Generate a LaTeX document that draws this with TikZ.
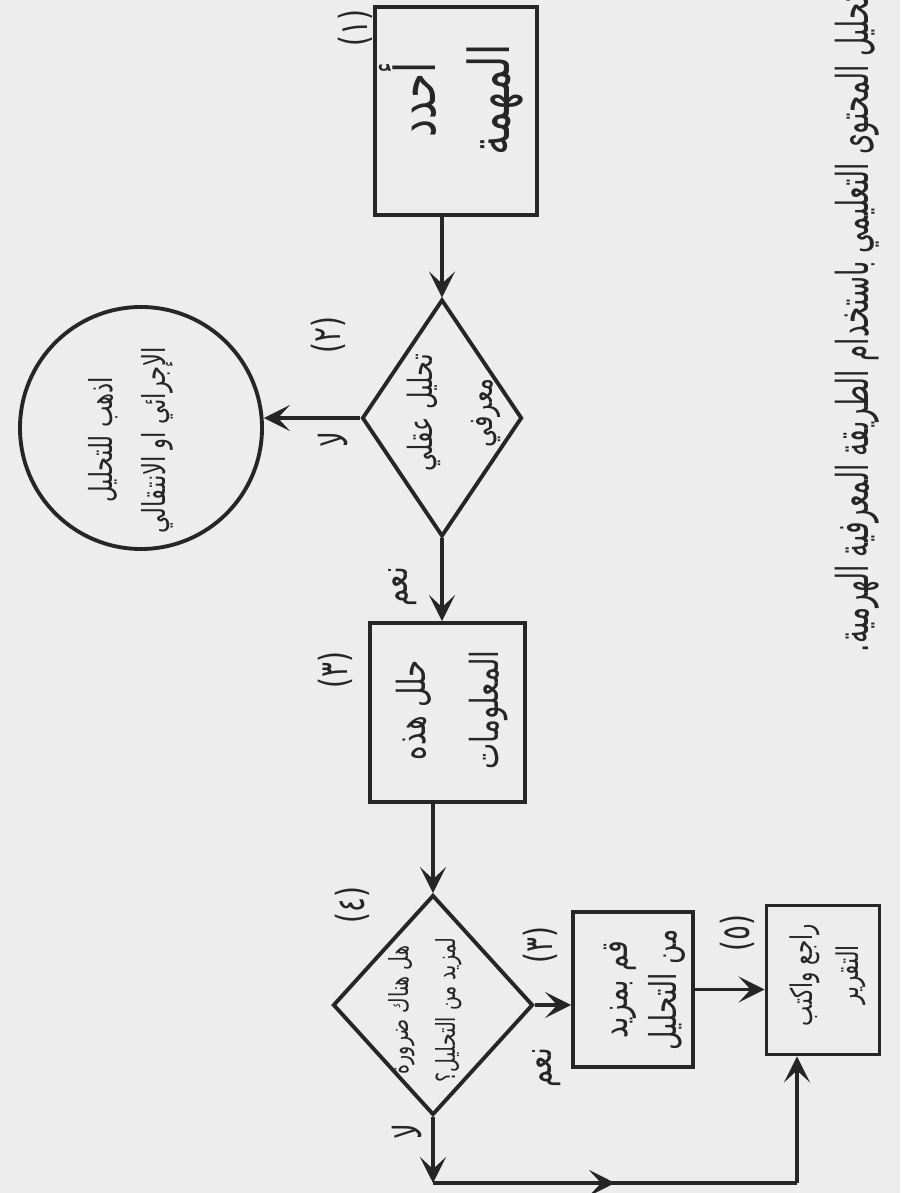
\documentclass[tikz,border=0pt]{standalone}
\usepackage{fontspec}
\TeXXeTstate=1
\newfontfamily\arabicfont[Script=Arabic,FakeStretch=0.72]{DejaVu Sans}
\newfontfamily\titlefont[Script=Arabic,FakeStretch=0.6]{DejaVu Sans}
\usetikzlibrary{shapes.geometric,arrows.meta,positioning,calc,decorations.markings}
\definecolor{ink}{gray}{0.15}
\definecolor{paper}{gray}{0.93}

\begin{document}
\begin{tikzpicture}[
  box/.style={draw=ink,line width=1.1pt,inner sep=0pt},
  dia/.style={box,diamond},
  circ/.style={box,circle},
  txt/.style={align=center,inner sep=0pt,text=ink},
  num/.style={font=\arabicfont\fontsize{11}{13}\selectfont,inner sep=0pt,text=ink},
  lbl/.style={font=\arabicfont\fontsize{11}{13}\selectfont,inner sep=0pt,text=ink},
  arr/.style={-{Stealth[length=2.6mm,width=2.6mm,inset=1.2mm]},line width=1pt,draw=ink},
  midarr/.style={line width=1pt,draw=ink,postaction={decorate},
    decoration={markings,mark=at position 0.5 with {\arrow{Stealth[length=2.6mm,width=2.6mm,inset=1.2mm]}}}}
]
% page drawn as the scan shows it: turned a quarter turn
\begin{scope}[rotate=90,transform shape]
\fill[paper] (0,0) rectangle (-11.93,-9);
\useasboundingbox (0,0) rectangle (-11.93,-9);

% title
\node[font=\titlefont\fontsize{12.5}{14}\selectfont,anchor=east,inner sep=0pt,text=ink] (title) at (0.05,-8.57)
  {\beginR تحليل المحتوى التعليمي باستخدام الطريقة المعرفية الهرمية.\endR};

% shapes
\node[box,minimum width=2.08cm,minimum height=1.62cm] (task) at (-1.11,-4.56) {};
\node[dia,minimum width=2.37cm,minimum height=1.60cm] (cogn) at (-4.18,-4.42) {};
\node[circ,minimum size=2.42cm] (proc) at (-4.28,-1.41) {};
\node[box,minimum width=1.79cm,minimum height=1.55cm] (analyze) at (-7.125,-4.475) {};
\node[dia,minimum width=2.20cm,minimum height=2.00cm] (need) at (-10.05,-4.33) {};
\node[box,minimum width=1.55cm,minimum height=1.20cm] (more) at (-9.895,-6.33) {};
\node[box,minimum width=1.49cm,minimum height=1.13cm] (report) at (-9.8,-8.23) {};

% texts
\node[txt,font=\arabicfont\fontsize{16}{21}\selectfont] (task-t) at (-1.0,-4.51)
  {\beginR أحدد\endR\\\beginR المهمة\endR};
\node[txt,font=\arabicfont\fontsize{9.5}{17}\selectfont] (cogn-t) at (-4.13,-4.54)
  {\beginR تحليل عقلي\endR\\\beginR معرفي\endR};
\node[txt,font=\arabicfont\fontsize{9}{15}\selectfont] (proc-t) at (-4.40,-1.31)
  {\beginR اذهب للتحليل\endR\\\beginR الإجرائي او الانتقالي\endR};
\node[txt,font=\arabicfont\fontsize{11}{21}\selectfont] (analyze-t) at (-7.1,-4.52)
  {\beginR حلل هذه\endR\\\beginR المعلومات\endR};
\node[txt,font=\arabicfont\fontsize{7.5}{13.5}\selectfont] (need-t) at (-10.1,-4.25)
  {\beginR هل هناك ضرورة\endR\\\beginR لمزيد من التحليل؟\endR};
\node[txt,font=\arabicfont\fontsize{10.5}{14}\selectfont] (more-t) at (-9.9,-6.45)
  {\beginR قم بمزيد\endR\\\beginR من التحليل\endR};
\node[txt,font=\arabicfont\fontsize{8.5}{13}\selectfont] (report-t) at (-9.75,-8.28)
  {\beginR راجع واكتب\endR\\\beginR التقرير\endR};

% step numbers
\node[num] (n1) at (-0.28,-3.55) {(١)};
\node[num] (n2) at (-3.35,-3.28) {(٢)};
\node[num] (n3) at (-6.70,-3.35) {(٣)};
\node[num] (n4) at (-9.05,-3.52) {(٤)};
\node[num] (n3b) at (-9.45,-5.40) {(٣)};
\node[num] (n5) at (-9.33,-7.37) {(٥)};

% connectors
\coordinate (c1) at (-11.83,-4.33);
\coordinate (c2) at (-11.83,-7.97);
\draw[arr] (task.west |- cogn.east) -- (cogn.east);
\draw[arr] (cogn.north) -- (cogn.north |- proc.south);
\draw[arr] (cogn.west) -- (cogn.west -| analyze.east);
\draw[arr] (analyze.west |- need.east) -- (need.east);
\draw[arr] (need.south) -- (need.south |- more.north);
\draw[arr] (more.south) -- (more.south |- report.north);
\draw[arr] (need.west) -- (c1);
\draw[midarr] (c1) -- (c2);
\draw[arr] (c2) -- (c2 -| report.west);

% yes / no
\node[lbl] (no1) at (-4.40,-3.33) {\beginR لا\endR};
\node[lbl] (yes1) at (-5.87,-4.03) {\beginR نعم\endR};
\node[lbl] (yes2) at (-10.68,-5.47) {\beginR نعم\endR};
\node[lbl] (no2) at (-11.32,-4.07) {\beginR لا\endR};
\end{scope}
\end{tikzpicture}
\end{document}
